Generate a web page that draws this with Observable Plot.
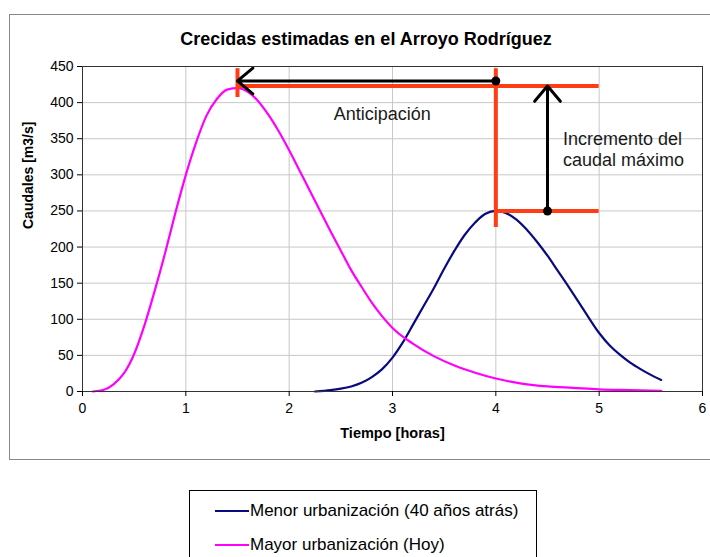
<!DOCTYPE html>
<html>
<head>
<meta charset="utf-8">
<script src="https://cdn.jsdelivr.net/npm/d3@7"></script>
<script src="https://cdn.jsdelivr.net/npm/@observablehq/plot@0.6"></script>
<style>
  body { margin:0; background:#fff; width:710px; height:557px; overflow:hidden; position:relative;
         font-family:"Liberation Sans", Arial, sans-serif; }
  #frame { position:absolute; left:9px; top:14px; width:760px; height:444px; border:1.5px solid #888; }
  #title { position:absolute; left:0; width:732px; top:29px; text-align:center; font-weight:bold;
           font-size:18px; color:#000; }
  #chart { position:absolute; left:0; top:0; }
  #legend { position:absolute; left:189px; top:490px; width:346px; height:90px; border:1px solid #000; background:#fff; }
  .item { position:absolute; left:25px; display:flex; align-items:center; font-size:17px; color:#000; white-space:nowrap; }
  .sw { width:34px; height:0; border-top:2.5px solid; margin-right:1px; }
</style>
</head>
<body>
<div id="frame"></div>
<div id="title"></div>
<div id="chart"></div>
<div id="legend"></div>
<script>
// ---- text ----
const titleText = "Crecidas estimadas en el Arroyo Rodríguez";
const xLabel = "Tiempo [horas]";
const yLabel = "Caudales [m3/s]";
const seriesNames = ["Menor urbanización (40 años atrás)", "Mayor urbanización (Hoy)"];
const seriesColors = ["#0a0a80", "#ff00ff"];

// ---- ticks ----
const xTicks = [0, 1, 2, 3, 4, 5, 6];
const yTicks = [0, 50, 100, 150, 200, 250, 300, 350, 400, 450];

// ---- series: Menor urbanización (40 años atrás) ----
const menorT = [2.25, 2.4, 2.5, 2.6, 2.7, 2.8, 2.9, 3.0, 3.1, 3.2, 3.3, 3.4, 3.5, 3.6, 3.7, 3.8, 3.9, 4.0,
                4.1, 4.2, 4.3, 4.4, 4.5, 4.6, 4.7, 4.8, 4.9, 5.0, 5.1, 5.2, 5.3, 5.4, 5.5, 5.6];
const menorQ = [0, 2, 4, 7, 12, 20, 31, 47, 68, 93, 118, 143, 170, 195, 217, 234, 246, 250,
                247, 238, 224, 207, 188, 167, 146, 124, 102, 81, 64, 51, 40, 31, 23, 16];

// ---- series: Mayor urbanización (Hoy) ----
const mayorT = [0.1, 0.2, 0.3, 0.4, 0.5, 0.6, 0.7, 0.8, 0.9, 1.0, 1.1, 1.2, 1.3, 1.4, 1.5, 1.6, 1.7, 1.8, 1.9,
                2.0, 2.1, 2.2, 2.3, 2.4, 2.5, 2.6, 2.7, 2.8, 2.9, 3.0, 3.2, 3.4, 3.6, 3.8, 4.0, 4.25, 4.5,
                4.75, 5.0, 5.3, 5.6];
const mayorQ = [0, 2, 10, 25, 52, 92, 140, 192, 248, 300, 345, 382, 405, 418, 420, 415, 402, 383, 360,
                334, 306, 278, 250, 222, 195, 168, 145, 123, 104, 88, 66, 49, 36, 26, 18, 11, 7,
                5, 3, 2, 1];

// ---- annotations (data coordinates) ----
const redVx = [1.5, 4.0];
const redVy1 = [407, 227];
const redVy2 = [447, 447];
const redHy = [423, 250];
const redHx1 = [1.5, 4.0];
const redHx2 = [5.0, 5.0];
const arrX1 = [4.0, 4.5];
const arrY1 = [430, 250];
const arrX2 = [1.5, 4.5];
const arrY2 = [430, 423];
const labelAnt = "Anticipación";
const labelAntX = 2.9, labelAntY = 384.5;
const labelInc = "Incremento del\ncaudal máximo";
const labelIncX = 4.65, labelIncY = 336;

const red = "#ff3d14";
const idx = a => d3.range(a.length);

document.getElementById("title").textContent = titleText;

const chart = Plot.plot({
  width: 710, height: 465,
  marginLeft: 82, marginRight: 8, marginTop: 66, marginBottom: 74,
  style: { background: "transparent", fontFamily: "Liberation Sans, Arial, sans-serif", fontSize: "14px", color: "#000", overflow: "visible" },
  x: { domain: [0, 6] },
  y: { domain: [0, 450] },
  marks: [
    Plot.gridY(yTicks, { stroke: "#c8c8c8", strokeOpacity: 1 }),
    Plot.gridX(xTicks, { stroke: "#c8c8c8", strokeOpacity: 1 }),
    Plot.line(idx(menorT), { x: menorT, y: menorQ, stroke: seriesColors[0], strokeWidth: 2.2, curve: "catmull-rom" }),
    Plot.line(idx(mayorT), { x: mayorT, y: mayorQ, stroke: seriesColors[1], strokeWidth: 2.2, curve: "monotone-x" }),
    Plot.ruleX(idx(redVx), { x: redVx, y1: redVy1, y2: redVy2, stroke: red, strokeWidth: 4 }),
    Plot.ruleY(idx(redHy), { y: redHy, x1: redHx1, x2: redHx2, stroke: red, strokeWidth: 4 }),
    Plot.arrow(idx(arrX1), { x1: arrX1, y1: arrY1, x2: arrX2, y2: arrY2, stroke: "#000", strokeWidth: 3, headLength: 10, headAngle: 80 }),
    Plot.dot(idx(arrX1), { x: arrX1, y: arrY1, r: 4.5, fill: "#000" }),
    Plot.frame({ stroke: "#333" }),
    Plot.axisY(yTicks, { tickSize: 5, tickPadding: 4, label: null, fontSize: 14 }),
    Plot.axisX(xTicks, { tickSize: 5, tickPadding: 7, label: null, fontSize: 14 }),
    Plot.text([yLabel], { frameAnchor: "left", rotate: -90, dx: -54, fontWeight: "bold", fontSize: 14 }),
    Plot.text([xLabel], { frameAnchor: "bottom", dy: 46, fontWeight: "bold", fontSize: 14.5 }),
    Plot.text([labelAnt], { x: labelAntX, y: labelAntY, fontSize: 18, fill: "#1a1a1a" }),
    Plot.text([labelInc], { x: labelIncX, y: labelIncY, fontSize: 18, fill: "#1a1a1a", textAnchor: "start", lineHeight: 1.17 })
  ]
});
document.getElementById("chart").appendChild(chart);

const legend = document.getElementById("legend");
seriesNames.forEach((name, i) => {
  const item = document.createElement("div");
  item.className = "item";
  item.style.top = (10 + i * 34) + "px";
  const sw = document.createElement("span");
  sw.className = "sw";
  sw.style.borderTopColor = seriesColors[i];
  const tx = document.createElement("span");
  tx.textContent = name;
  item.appendChild(sw);
  item.appendChild(tx);
  legend.appendChild(item);
});
</script>
</body>
</html>
